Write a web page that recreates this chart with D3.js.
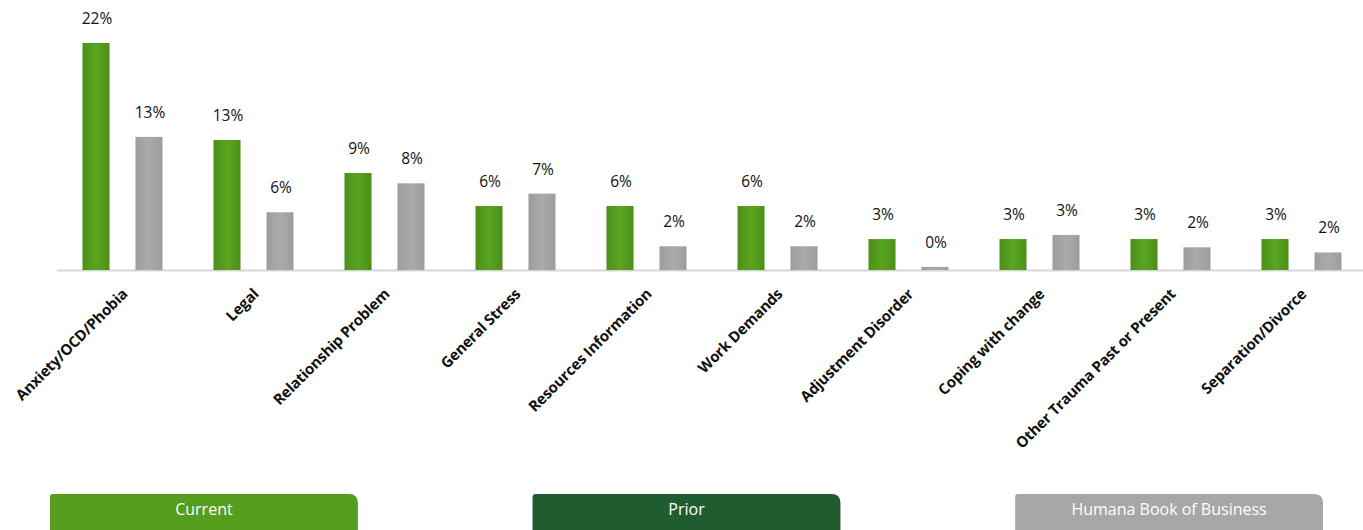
<!DOCTYPE html>
<html>
<head>
<meta charset="utf-8">
<script src="https://cdn.jsdelivr.net/npm/d3@7"></script>
<style>
  html, body { margin: 0; padding: 0; background: #fff; }
  svg { display: block; }
  .value-label { font-family: "Open Sans", sans-serif; font-size: 15.5px; fill: #111; }
  .cat-label { font-family: "Open Sans", sans-serif; font-size: 15px; font-weight: 700; fill: #111; letter-spacing: -0.2px; }
  .legend-label { font-family: "Open Sans", sans-serif; font-size: 16px; fill: #fff; }
</style>
</head>
<body>
<svg width="1363" height="530"></svg>
<script>
// Data
const categories = [
  "Anxiety/OCD/Phobia", "Legal", "Relationship Problem", "General Stress",
  "Resources Information", "Work Demands", "Adjustment Disorder",
  "Coping with change", "Other Trauma Past or Present", "Separation/Divorce"
];
const currentValues = [22.0, 12.6, 9.4, 6.2, 6.2, 6.2, 3.0, 3.0, 3.0, 3.0];
const bookValues = [12.9, 5.6, 8.4, 7.4, 2.3, 2.3, 0.3, 3.4, 2.2, 1.7];
const seriesNames = ["Current", "Humana Book of Business"];
const legendLabels = ["Current", "Prior", "Humana Book of Business"];

const svg = d3.select("svg");

const baseline = 270;
const colors = { "Current": "#559d1c", "Prior": "#1f5d31", "Humana Book of Business": "#a7a7a7" };

// gradients to mimic the shaded bars
const defs = svg.append("defs");
function addGradient(id, edge, mid) {
  const g = defs.append("linearGradient").attr("id", id).attr("x1", 0).attr("x2", 1).attr("y1", 0).attr("y2", 0);
  g.append("stop").attr("offset", "0%").attr("stop-color", edge);
  g.append("stop").attr("offset", "50%").attr("stop-color", mid);
  g.append("stop").attr("offset", "100%").attr("stop-color", edge);
}
addGradient("grad-current", "#4b8f17", "#5aa521");
addGradient("grad-book", "#9c9c9c", "#ababab");

const x = d3.scaleBand().domain(categories).range([57, 1367]);
const xInner = d3.scaleBand().domain(seriesNames).range([25.5, 105.5]).paddingInner(0.49);
const y = d3.scaleLinear().domain([0, 22]).range([baseline, 43]);

const data = categories.map((c, i) => ({
  category: c,
  values: [
    { series: "Current", value: currentValues[i], fill: "url(#grad-current)" },
    { series: "Humana Book of Business", value: bookValues[i], fill: "url(#grad-book)" }
  ]
}));

// baseline + category labels
const axis = svg.append("g")
  .attr("transform", `translate(0, ${baseline})`)
  .call(d3.axisBottom(x).tickSize(0).tickSizeOuter(0));
axis.select(".domain").attr("stroke", "#d6d6d6").attr("stroke-width", 2);
axis.selectAll(".tick text")
  .attr("class", "cat-label")
  .attr("x", 0).attr("y", 0).attr("dy", 0)
  .attr("text-anchor", "end")
  .attr("transform", "translate(6, 25) rotate(-45)");

// bars
const groups = svg.append("g").selectAll("g")
  .data(data)
  .join("g")
  .attr("transform", d => `translate(${x(d.category)}, 0)`);

groups.selectAll("rect")
  .data(d => d.values)
  .join("rect")
  .attr("x", d => xInner(d.series))
  .attr("width", xInner.bandwidth())
  .attr("y", d => y(d.value))
  .attr("height", d => baseline - y(d.value))
  .attr("fill", d => d.fill);

groups.selectAll("text.value-label")
  .data(d => d.values)
  .join("text")
  .attr("class", "value-label")
  .attr("x", d => xInner(d.series) + xInner.bandwidth() / 2 + 1)
  .attr("y", d => y(d.value) - 19)
  .attr("text-anchor", "middle")
  .text(d => Math.round(d.value) + "%");

// legend boxes at the bottom
const legendX = d3.scaleBand().domain(legendLabels).range([50, 1323]).paddingInner(0.362);
const boxTop = 494, boxH = 44;
function boxPath(w, h) {
  const rl = 3, rr = 9;
  return `M${rl},0 H${w - rr} Q${w},0 ${w},${rr} V${h - rr} Q${w},${h} ${w - rr},${h} H${rl} Q0,${h} 0,${h - rl} V${rl} Q0,0 ${rl},0 Z`;
}
const legend = svg.append("g").selectAll("g")
  .data(legendLabels)
  .join("g")
  .attr("transform", d => `translate(${legendX(d)}, ${boxTop})`);

legend.append("path")
  .attr("d", boxPath(legendX.bandwidth(), boxH))
  .attr("fill", d => colors[d]);

legend.append("text")
  .attr("class", "legend-label")
  .attr("x", legendX.bandwidth() / 2)
  .attr("y", 21)
  .attr("text-anchor", "middle")
  .text(d => d);
</script>
</body>
</html>
